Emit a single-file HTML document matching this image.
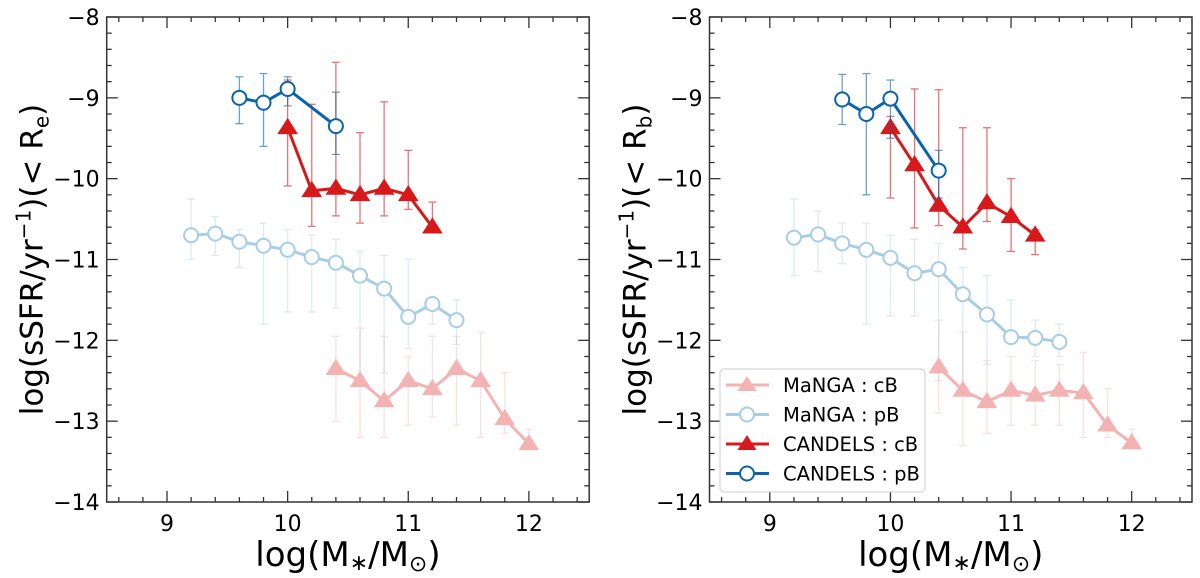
<!DOCTYPE html>
<html><head><meta charset="utf-8"><style>
body{margin:0;background:#fff;}
svg{display:block;font-family:"DejaVu Sans","Liberation Sans",sans-serif;}
</style></head><body>
<svg id="fig" width="1200" height="578"></svg>
<script>
const xs=[9.2,9.4,9.6,9.8,10.0,10.2,10.4,10.6,10.8,11.0,11.2,11.4,11.6,11.8,12.0];
const xTicks=[9,10,11,12];
const yTicks=[-8,-9,-10,-11,-12,-13,-14];
// Left panel (< Re)
const L_cpB_x=[9.6,9.8,10.0,10.4];
const L_cpB_y=[-9.0,-9.06,-8.89,-9.35];
const L_cpB_hi=[-8.74,-8.7,-8.74,-8.93];
const L_cpB_lo=[-9.32,-9.6,-9.1,-9.7];
const L_ccB_x=[10.0,10.2,10.4,10.6,10.8,11.0,11.2];
const L_ccB_y=[-9.37,-10.15,-10.12,-10.2,-10.12,-10.2,-10.6];
const L_ccB_hi=[-8.78,-9.08,-8.56,-9.43,-9.05,-9.65,-10.29];
const L_ccB_lo=[-10.09,-10.59,-10.46,-10.55,-10.46,-10.38,-10.65];
const L_mpB_x=[9.2,9.4,9.6,9.8,10.0,10.2,10.4,10.6,10.8,11.0,11.2,11.4];
const L_mpB_y=[-10.7,-10.68,-10.78,-10.83,-10.88,-10.97,-11.04,-11.2,-11.36,-11.71,-11.55,-11.75];
const L_mpB_hi=[-10.25,-10.47,-10.63,-10.55,-10.63,-10.7,-10.75,-10.9,-10.95,-11.0,-11.5,-11.5];
const L_mpB_lo=[-11.0,-10.95,-11.1,-11.8,-11.65,-11.65,-11.6,-12.55,-12.4,-12.1,-11.8,-12.05];
const L_mcB_x=[10.4,10.6,10.8,11.0,11.2,11.4,11.6,11.8,12.0];
const L_mcB_y=[-12.35,-12.5,-12.75,-12.5,-12.6,-12.35,-12.5,-12.97,-13.28];
const L_mcB_hi=[-11.95,-11.85,-11.95,-12.2,-11.95,-11.95,-11.9,-12.4,-13.1];
const L_mcB_lo=[-13.0,-13.2,-13.2,-13.05,-12.95,-13.05,-13.2,-13.15,-13.3];
// Right panel (< Rb)
const R_cpB_x=[9.6,9.8,10.0,10.4];
const R_cpB_y=[-9.02,-9.2,-9.01,-9.9];
const R_cpB_hi=[-8.71,-8.7,-8.78,-9.65];
const R_cpB_lo=[-9.33,-10.2,-9.5,-10.24];
const R_ccB_x=[10.0,10.2,10.4,10.6,10.8,11.0,11.2];
const R_ccB_y=[-9.37,-9.83,-10.33,-10.6,-10.3,-10.47,-10.7];
const R_ccB_hi=[-9.23,-8.89,-8.9,-9.37,-9.37,-10.0,-10.63];
const R_ccB_lo=[-10.24,-10.61,-10.58,-10.87,-10.53,-10.9,-10.94];
const R_mpB_x=[9.2,9.4,9.6,9.8,10.0,10.2,10.4,10.6,10.8,11.0,11.2,11.4];
const R_mpB_y=[-10.73,-10.69,-10.8,-10.88,-10.98,-11.17,-11.12,-11.43,-11.68,-11.96,-11.97,-12.02];
const R_mpB_hi=[-10.25,-10.4,-10.55,-10.55,-10.7,-10.75,-10.8,-11.1,-11.2,-11.5,-11.75,-11.8];
const R_mpB_lo=[-11.2,-11.15,-11.05,-11.8,-11.7,-11.7,-12.5,-12.6,-12.3,-11.95,-12.2,-12.2];
const R_mcB_x=[10.4,10.6,10.8,11.0,11.2,11.4,11.6,11.8,12.0];
const R_mcB_y=[-12.33,-12.62,-12.76,-12.62,-12.68,-12.62,-12.65,-13.05,-13.27];
const R_mcB_hi=[-11.75,-11.9,-12.25,-12.2,-12.25,-12.3,-12.15,-12.6,-13.1];
const R_mcB_lo=[-12.9,-13.3,-13.15,-13.05,-13.05,-13.05,-13.2,-13.2,-13.3];

const NS='http://www.w3.org/2000/svg';
const svg=document.getElementById('fig');
function mk(tag,attrs,parent){const e=document.createElementNS(NS,tag);for(const k in attrs)e.setAttribute(k,attrs[k]);(parent||svg).appendChild(e);return e;}
const C={mcB:'#f4b3b3',mpB:'#a8cde6',ccB:'#d7191c',cpB:'#0b64ab'};

function panel(x0,name,ylab,sub,S){
  const x1=x0+482.5,y0=17,y1=502;
  const g=mk('g',{});
  
  
  const X=v=>x0+(v-8.5)/4*(x1-x0);
  const Y=v=>y0+(-8-v)/6*(y1-y0);
  function series(xa,ya,hi,lo,col,marker,key,lw,ms,eop){
    const sg=mk('g',{},g);
    
    
    for(let i=0;i<xa.length;i++){
      const e=mk('g',{stroke:col,'stroke-width':1.3,opacity:eop},sg);
      
      
      mk('line',{x1:X(xa[i]),x2:X(xa[i]),y1:Y(hi[i]),y2:Y(lo[i])},e);
      mk('line',{x1:X(xa[i])-4,x2:X(xa[i])+4,y1:Y(hi[i]),y2:Y(hi[i])},e);
      mk('line',{x1:X(xa[i])-4,x2:X(xa[i])+4,y1:Y(lo[i]),y2:Y(lo[i])},e);
    }
    const pts=xa.map((v,i)=>X(v)+','+Y(ya[i])).join(' ');
    const pl=mk('polyline',{points:pts,fill:'none',stroke:col,'stroke-width':lw,'stroke-linejoin':'round'},sg);
    
    
    for(let i=0;i<xa.length;i++){
      const cx=X(xa[i]),cy=Y(ya[i]);let m;
      if(marker==='tri'){m=mk('polygon',{points:`${cx},${cy-ms} ${cx-ms*1.05},${cy+ms*0.65} ${cx+ms*1.05},${cy+ms*0.65}`,fill:col,stroke:col,'stroke-width':1},sg);}
      else{m=mk('circle',{cx:cx,cy:cy,r:ms*0.78,fill:'#fff',stroke:col,'stroke-width':2},sg);}
      
      
    }
  }
  series(S.mpB[0],S.mpB[1],S.mpB[2],S.mpB[3],C.mpB,'circ','manga-pb',3,9,0.4);
  series(S.mcB[0],S.mcB[1],S.mcB[2],S.mcB[3],C.mcB,'tri','manga-cb',3,9,0.4);
  series(S.ccB[0],S.ccB[1],S.ccB[2],S.ccB[3],C.ccB,'tri','candels-cb',3,9,0.6);
  series(S.cpB[0],S.cpB[1],S.cpB[2],S.cpB[3],C.cpB,'circ','candels-pb',3,9,0.6);
  const fr=mk('rect',{x:x0,y:y0,width:x1-x0,height:y1-y0,fill:'none',stroke:'#333','stroke-width':1.5},g);
  
  
  const tk=mk('g',{stroke:'#333','stroke-width':1.3},g);
  for(let v=8.6;v<12.5;v+=0.2){const vv=Math.round(v*10)/10;const maj=Number.isInteger(vv);const L=maj?11:5;
    mk('line',{x1:X(vv),x2:X(vv),y1:y1,y2:y1-L},tk);mk('line',{x1:X(vv),x2:X(vv),y1:y0,y2:y0+L},tk);}
  for(let v=-8;v>=-14;v-=0.2){const vv=Math.round(v*10)/10;const maj=Number.isInteger(vv);const L=maj?11:5;
    mk('line',{x1:x0,x2:x0+L,y1:Y(vv),y2:Y(vv)},tk);mk('line',{x1:x1,x2:x1-L,y1:Y(vv),y2:Y(vv)},tk);}
  xTicks.forEach(t=>{const e=mk('text',{x:X(t),y:y1+29,'text-anchor':'middle','font-size':22,fill:'#000'},g);e.textContent=t;
    });
  yTicks.forEach(t=>{const e=mk('text',{x:x0-7,y:Y(t)+8,'text-anchor':'end','font-size':22,fill:'#000'},g);e.textContent='\u2212'+Math.abs(t);
    });
  const xl=mk('text',{x:(x0+x1)/2,y:566,'text-anchor':'middle','font-size':34,fill:'#000'},g);
  xl.innerHTML='log(M<tspan font-size="22" dy="4">\u2217</tspan><tspan dy="-4">/M</tspan><tspan font-size="22" dy="5">\u2299</tspan><tspan dy="-5">)</tspan>';
  
  const yl=mk('text',{x:0,y:0,'text-anchor':'middle','font-size':31,fill:'#000',transform:`translate(${x0-64},${(y0+y1)/2}) rotate(-90)`},g);
  yl.innerHTML=`log(sSFR/yr<tspan font-size="20" dy="-12">\u22121</tspan><tspan dy="12">)(&lt; R</tspan><tspan font-size="20" dy="6">${sub}</tspan><tspan dy="-6">)</tspan>`;
  
  return {X,Y};
}
panel(106.7,'left-panel','','e',{cpB:[L_cpB_x,L_cpB_y,L_cpB_hi,L_cpB_lo],ccB:[L_ccB_x,L_ccB_y,L_ccB_hi,L_ccB_lo],mpB:[L_mpB_x,L_mpB_y,L_mpB_hi,L_mpB_lo],mcB:[L_mcB_x,L_mcB_y,L_mcB_hi,L_mcB_lo]});
panel(709.5,'right-panel','','b',{cpB:[R_cpB_x,R_cpB_y,R_cpB_hi,R_cpB_lo],ccB:[R_ccB_x,R_ccB_y,R_ccB_hi,R_ccB_lo],mpB:[R_mpB_x,R_mpB_y,R_mpB_hi,R_mpB_lo],mcB:[R_mcB_x,R_mcB_y,R_mcB_hi,R_mcB_lo]});

const lg=mk('g',{});


mk('rect',{x:720,y:369,width:205,height:123,rx:4,fill:'#fff','fill-opacity':0.85,stroke:'#ccc','stroke-width':1},lg);
const legNames=['MaNGA : cB','MaNGA : pB','CANDELS : cB','CANDELS : pB'];
const legCols=[C.mcB,C.mpB,C.ccB,C.cpB];
const legMk=['tri','circ','tri','circ'];
legNames.forEach((n,i)=>{
  const y=385+i*29.5;
  const e=mk('g',{},lg);
  
  
  mk('line',{x1:726,x2:769,y1:y,y2:y,stroke:legCols[i],'stroke-width':3},e);
  if(legMk[i]==='tri')mk('polygon',{points:`747,${y-9} 737.5,${y+6} 756.5,${y+6}`,fill:legCols[i]},e);
  else mk('circle',{cx:747,cy:y,r:7,fill:'#fff',stroke:legCols[i],'stroke-width':2},e);
  const t=mk('text',{x:783,y:y+7,'font-size':19.5,fill:'#000'},e);t.textContent=n;
});
</script>
</body></html>
